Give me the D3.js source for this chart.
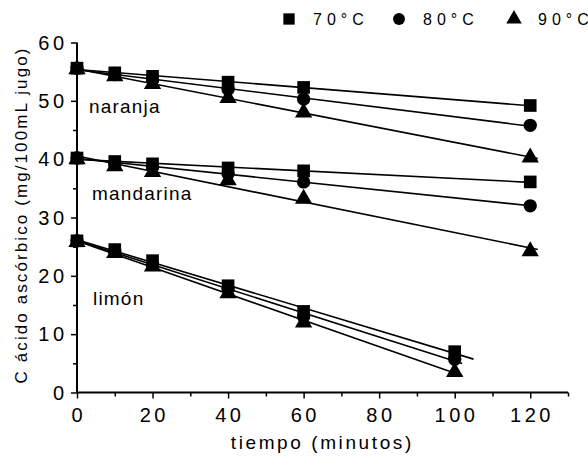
<!DOCTYPE html>
<html>
<head>
<meta charset="utf-8">
<script src="https://cdn.jsdelivr.net/npm/d3@7"></script>
<style>
  html, body { margin: 0; padding: 0; background: #fff; }
  svg text { font-family: "Liberation Sans Narrow", "Arial Narrow", "Liberation Sans", Arial, sans-serif; fill: #000; }
</style>
</head>
<body>
<svg id="chart" width="588" height="463"></svg>
<script>
// Ascorbic acid content (mg/100 mL juice) over heating time, three juices at three temperatures
const temps = ["70°C", "80°C", "90°C"];
const juices = ["naranja", "mandarina", "limón"];

const timesCitrus = [0, 10, 20, 40, 60, 120];
const timesLemon = [0, 10, 20, 40, 60, 100];

const naranja70 = [55.6, 54.8, 54.2, 53.2, 52.3, 49.2];
const naranja80 = [55.6, 54.5, 53.6, 52.0, 50.3, 45.8];
const naranja90 = [55.4, 54.2, 52.9, 50.5, 48.0, 40.3];

const mandarina70 = [40.2, 39.6, 39.2, 38.5, 38.0, 36.1];
const mandarina80 = [40.2, 39.3, 38.7, 37.5, 36.1, 32.0];
const mandarina90 = [40.0, 38.8, 37.8, 36.4, 33.2, 24.2];

const limon70 = [26.0, 24.5, 22.6, 18.3, 13.9, 7.0];
const limon80 = [26.0, 24.2, 22.0, 17.8, 13.0, 5.7];
const limon90 = [25.8, 23.9, 21.6, 17.0, 12.0, 3.5];

// end of each fitted line (minutes)
const fitEndCitrus = [120, 120, 122];
const fitEndLemon = [105, 102, 102];

const xTicks = [0, 20, 40, 60, 80, 100, 120];
const yTicks = [0, 10, 20, 30, 40, 50, 60];

const series = [];
[[timesCitrus, [naranja70, naranja80, naranja90], fitEndCitrus],
 [timesCitrus, [mandarina70, mandarina80, mandarina90], fitEndCitrus],
 [timesLemon, [limon70, limon80, limon90], fitEndLemon]].forEach(([t, sets, ends], j) => {
  sets.forEach((vals, k) => {
    series.push({ juice: juices[j], temp: k, times: t, values: vals, end: ends[k] });
  });
});

const svg = d3.select("#chart");
const x = d3.scaleLinear().domain([0, 130]).range([77, 568]);
const y = d3.scaleLinear().domain([0, 60]).range([392.5, 42.5]);

// widen glyph spacing of a text element by a given amount between characters
function spaced(sel, gap) {
  sel.each(function () {
    const n = this.textContent.length;
    const w = this.getComputedTextLength();
    if (n > 1) {
      d3.select(this).attr("textLength", w + (n - 1) * gap).attr("lengthAdjust", "spacing");
    }
  });
}

// least-squares line
function fit(t, v) {
  const mt = d3.mean(t), mv = d3.mean(v);
  let sxy = 0, sxx = 0;
  t.forEach((ti, i) => { sxy += (ti - mt) * (v[i] - mv); sxx += (ti - mt) * (ti - mt); });
  const b = sxy / sxx;
  return { a: mv - b * mt, b };
}

// axes
const xAxis = svg.append("g").attr("transform", `translate(0,${y(0)})`)
  .call(d3.axisBottom(x).tickValues(d3.range(0, 131, 10)).tickSize(6).tickFormat(""));
xAxis.select(".domain").attr("d", `M${x(0)},0H${x(130)}`).attr("stroke-width", 2);
xAxis.selectAll(".tick line").attr("stroke-width", 1.5)
  .attr("y2", d => (d % 20 === 0 ? 6 : 4));

const yAxis = svg.append("g").attr("transform", `translate(${x(0)},0)`)
  .call(d3.axisLeft(y).tickValues(d3.range(0, 61, 5)).tickSize(6).tickFormat(""));
yAxis.select(".domain").attr("d", `M0,${y(0)}V${y(60)}`).attr("stroke-width", 2);
yAxis.selectAll(".tick line").attr("stroke-width", 1.5)
  .attr("x2", d => (d % 10 === 0 ? -6 : -4));

svg.append("g").selectAll("text").data(xTicks).join("text")
  .attr("x", d => x(d)).attr("y", 422)
  .attr("text-anchor", "middle").attr("font-size", 20)
  .text(d => d).call(spaced, 3.5);

svg.append("g").selectAll("text").data(yTicks).join("text")
  .attr("x", 64).attr("y", d => y(d) + 7)
  .attr("text-anchor", "end").attr("font-size", 20)
  .text(d => d).call(spaced, 3.5);

// axis titles
svg.append("text").attr("x", 321).attr("y", 449).attr("text-anchor", "middle")
  .attr("font-size", 19).text("tiempo (minutos)").call(spaced, 2.6);
svg.append("text").attr("transform", `translate(27,216) rotate(-90)`).attr("text-anchor", "middle")
  .attr("font-size", 17).text("C ácido ascórbico (mg/100mL jugo)").call(spaced, 2.1);

// fitted lines
svg.append("g").selectAll("line").data(series).join("line")
  .each(function (d) {
    const f = fit(d.times, d.values);
    d3.select(this)
      .attr("x1", x(0)).attr("y1", y(f.a))
      .attr("x2", x(d.end)).attr("y2", y(f.a + f.b * d.end));
  })
  .attr("stroke", "#000").attr("stroke-width", 1.6);

// markers
const shapes = [d3.symbolSquare, d3.symbolCircle, d3.symbolTriangle];
const sizes = [160, 140, 130];
const markers = svg.append("g");
series.slice().sort((a, b) => b.temp - a.temp).forEach(s => {
  markers.append("g").selectAll("path").data(s.times.map((t, i) => [t, s.values[i]])).join("path")
    .attr("transform", d => `translate(${x(d[0])},${y(d[1])})`)
    .attr("d", d3.symbol().type(shapes[s.temp]).size(sizes[s.temp]))
    .attr("fill", "#000");
});

// juice labels
const juiceLabels = [[89, 113], [92, 200], [93, 305]];
svg.append("g").selectAll("text").data(juices).join("text")
  .attr("x", (d, i) => juiceLabels[i][0]).attr("y", (d, i) => juiceLabels[i][1])
  .attr("font-size", 19).text(d => d).call(spaced, 1.2);

// legend
const legendX = [289, 399, 514];
const legend = svg.append("g").selectAll("g").data(temps).join("g")
  .attr("transform", (d, i) => `translate(${legendX[i]},19)`);
legend.append("path").attr("d", (d, i) => d3.symbol().type(shapes[i]).size(sizes[i] * 0.8)())
  .attr("fill", "#000");
legend.append("text").attr("x", 24).attr("y", 6).attr("font-size", 16)
  .text(d => d).call(spaced, 5);
</script>
</body>
</html>
